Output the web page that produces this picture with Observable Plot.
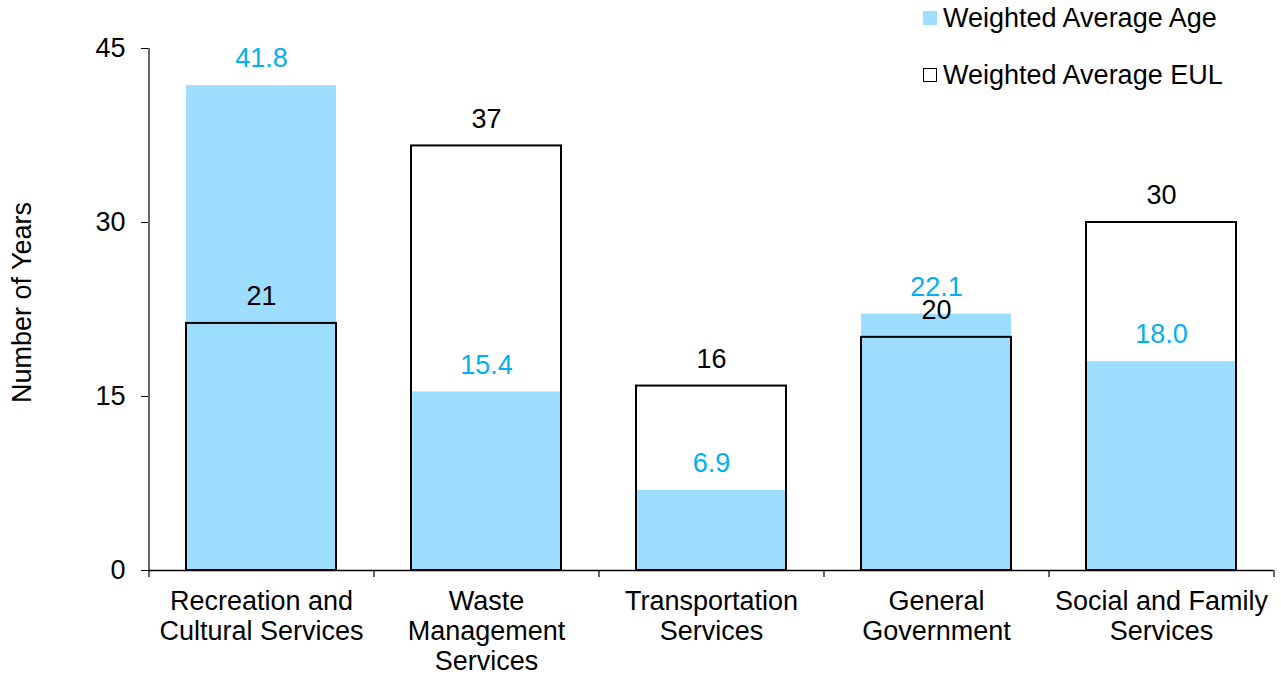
<!DOCTYPE html>
<html>
<head>
<meta charset="utf-8">
<script src="https://cdn.jsdelivr.net/npm/d3@7"></script>
<script src="https://cdn.jsdelivr.net/npm/@observablehq/plot@0.6"></script>
<style>
  html, body { margin: 0; padding: 0; background: #fff; }
  #wrap { position: relative; width: 1281px; height: 675px; font-family: "Liberation Sans", Arial, sans-serif; }
  #legend { position: absolute; left: 923px; top: 0; font-size: 27px; color: #000; }
  .item { position: absolute; white-space: nowrap; display: flex; align-items: center; height: 30px; }
  .sw { width: 14px; height: 14px; box-sizing: border-box; margin-right: 6px; }
</style>
</head>
<body>
<div id="wrap">
  <div id="legend">
    <div class="item" style="top:3px;left:0"><div class="sw" style="background:#9DDDFF"></div>Weighted Average Age</div>
    <div class="item" style="top:60px;left:0"><div class="sw" style="border:1.5px solid #000;background:#fff"></div>Weighted Average EUL</div>
  </div>
</div>
<script>
const categories = [
  "Recreation and\nCultural Services",
  "Waste\nManagement\nServices",
  "Transportation\nServices",
  "General\nGovernment",
  "Social and Family\nServices"
];
const ageValues = [41.8, 15.4, 6.9, 22.1, 18.0];
const eulValues = [21.3, 36.6, 15.9, 20.1, 30.0];
const yTicks = [0, 15, 30, 45];

const ageColor = "#9DDDFF";
const ageLabelColor = "#00B0F0";

const ageData = categories.map((c, i) => ({cat: c, v: ageValues[i]}));
const eulData = categories.map((c, i) => ({cat: c, v: eulValues[i]}));

const chart = Plot.plot({
  width: 1281,
  height: 675,
  marginLeft: 148,
  marginRight: 8,
  marginTop: 48,
  marginBottom: 105,
  style: {fontFamily: "'Liberation Sans', Arial, sans-serif", fontSize: "27px", color: "#000", background: "transparent"},
  x: {domain: categories, paddingInner: 1/3, paddingOuter: 1/6, label: null},
  y: {domain: [0, 45], label: null},
  marks: [
    Plot.barY(ageData, {x: "cat", y: "v", fill: ageColor}),
    Plot.barY(eulData, {x: "cat", y: "v", fill: "none", stroke: "#000", strokeWidth: 2}),
    Plot.text(ageData, {x: "cat", y: "v", text: d => d3.format(".1f")(d.v), fill: ageLabelColor, dy: -27, lineAnchor: "middle", fontSize: 27}),
    Plot.text(eulData, {x: "cat", y: "v", text: d => d3.format(".0f")(d.v), fill: "#000", dy: -27, lineAnchor: "middle", fontSize: 27}),
    Plot.ruleY([0], {stroke: "#000", strokeWidth: 1.5}),
    Plot.ruleX(categories, {x: d => d, y1: 0, y2: 0, dx: -112.5, insetBottom: -7, stroke: "#000", strokeWidth: 1.2}),
    Plot.ruleX(categories.slice(-1), {x: d => d, y1: 0, y2: 0, dx: 112.5, insetBottom: -7, stroke: "#000", strokeWidth: 1.2}),
    Plot.ruleX(categories.slice(0, 1), {x: d => d, y1: 0, y2: 45, dx: -112.5, stroke: "#000", strokeWidth: 1.2}),
    Plot.axisY({ticks: yTicks, tickSize: 7, tickPadding: 16, fontSize: 27, label: null, tickFormat: d => d}),
    Plot.axisX({tickSize: 0, tickPadding: 18, fontSize: 27, lineHeight: 1.11, label: null}),
    Plot.text(["Number of Years"], {frameAnchor: "left", textAnchor: "middle", rotate: -90, dx: -126, dy: -7, fontSize: 27, fill: "#000"})
  ]
});
document.getElementById("wrap").prepend(chart);
chart.style.position = "absolute";
chart.style.left = "0";
chart.style.top = "0";
</script>
</body>
</html>
